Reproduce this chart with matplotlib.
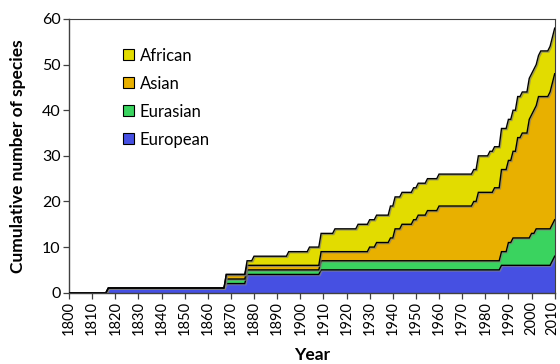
import numpy as np
import matplotlib
matplotlib.use("Agg")
import matplotlib.pyplot as plt
from matplotlib.patches import Patch
import matplotlib.patheffects as pe
from matplotlib.transforms import ScaledTranslation

# Year of first record for each species, grouped by region of origin
european_years = [1817, 1868, 1877, 1877, 1909, 1987, 2009, 2010]
eurasian_years = [1868, 1909, 1987, 1990, 1990, 1992, 2000, 2002]
asian_years = [1868, 1909, 1930, 1933, 1939, 1941, 1941, 1944, 1949, 1951,
               1955, 1960, 1975, 1977, 1977, 1984, 1987, 1987, 1992, 1994,
               1994, 1994, 1996, 1999, 1999, 1999, 2001, 2003, 2003, 2008,
               2009, 2010]
african_years = [1877, 1880, 1895, 1904, 1915, 1925, 1939, 1977, 1982, 2004]

series_names = ["European", "Eurasian", "Asian", "African"]
series_colors = ["#4650E2", "#3AD35F", "#E8B000", "#E2DC00"]
y_ticks = [0, 10, 20, 30, 40, 50, 60]
x_ticks = list(range(1800, 2011, 10))

year_start, year_end = 1800, 2010
years = np.arange(year_start, year_end + 1)


def cumulative(first_years):
    return np.searchsorted(np.sort(first_years), years, side="right")


counts = [cumulative(s) for s in (european_years, eurasian_years,
                                  asian_years, african_years)]

plt.rcParams["font.family"] = ["Lato", "DejaVu Sans"]

fig = plt.figure(figsize=(5.6, 3.64), dpi=100)
ax = fig.add_axes([69 / 560, 1 - 292.7 / 364, 485.7 / 560, 273.7 / 364])

bottom = np.zeros(len(years))
tops = []
for c, col in zip(counts, series_colors):
    top = bottom + c
    ax.fill_between(years, bottom, top, color=col, linewidth=0, zorder=2)
    tops.append(top)
    bottom = top

shadow = [pe.SimpleLineShadow(offset=(0.8, -0.8), shadow_color="#808080",
                              alpha=0.7), pe.Normal()]
for top in tops:
    ax.plot(years, top, color="black", linewidth=1.0, zorder=3,
            path_effects=shadow, solid_joinstyle="miter")

ax.set_xlim(year_start, year_end)
ax.set_ylim(0, 60)
ax.set_xticks(x_ticks)
ax.set_xticklabels([str(t) for t in x_ticks], rotation=90, fontsize=10.5)
ax.set_yticks(y_ticks)
ax.set_yticklabels([str(t) for t in y_ticks], fontsize=11.5)
ax.tick_params(axis="both", direction="out", length=4, width=0.9,
               color="#404040", pad=2)

# nudge the last year label so it stays inside the figure
last = ax.get_xticklabels()[-1]
last.set_transform(last.get_transform()
                   + ScaledTranslation(-2.5 / 100, 0, fig.dpi_scale_trans))

for side in ("left", "bottom"):
    ax.spines[side].set_color("#404040")
    ax.spines[side].set_linewidth(1.0)
for side in ("top", "right"):
    ax.spines[side].set_color("#404040")
    ax.spines[side].set_linewidth(0.8)
ax.spines["bottom"].set_zorder(4)

handles = [Patch(facecolor=col, edgecolor="black", linewidth=0.8)
           for col in series_colors[::-1]]
ax.legend(handles, series_names[::-1], loc="upper left",
          bbox_to_anchor=(0.111, 0.895), frameon=False, fontsize=12,
          handlelength=0.65, handleheight=0.65, handletextpad=0.35,
          labelspacing=0.72, borderpad=0, borderaxespad=0)

fig.text(18.5 / 560, 1 - 155.9 / 364, "Cumulative number of species",
         rotation=90, ha="center", va="center", fontsize=12.5,
         fontweight="bold")
fig.text(311.9 / 560, 1 - 355 / 364, "Year", ha="center", va="center",
         fontsize=12.5, fontweight="bold")

fig.savefig("out.png", dpi=100)
